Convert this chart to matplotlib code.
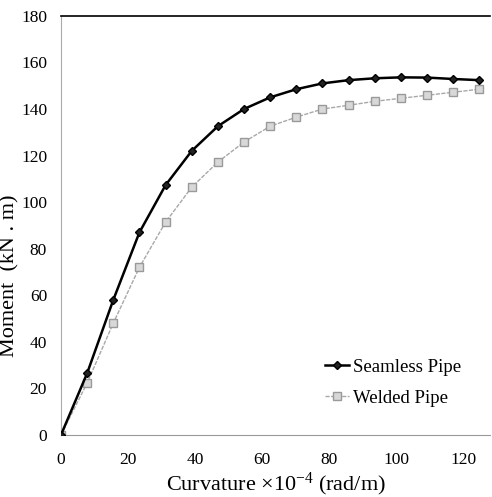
import matplotlib.pyplot as plt

plt.rcParams["font.family"] = ["Liberation Serif", "DejaVu Serif"]
plt.rcParams["mathtext.fontset"] = "custom"
plt.rcParams["mathtext.rm"] = "Liberation Serif"

curvature = [0, 7.8, 15.6, 23.4, 31.2, 39.0, 46.8, 54.6, 62.4, 70.2, 78.0,
             85.8, 93.6, 101.4, 109.2, 117.0, 124.8]
seamless = [0, 26.5, 58, 87, 107.3, 122, 132.6, 140, 145, 148.5, 151,
            152.4, 153.2, 153.6, 153.5, 152.9, 152.4]
welded = [0, 22.3, 48, 72, 91.4, 106.4, 117.2, 125.8, 132.6, 136.5, 140,
          141.6, 143.3, 144.6, 145.9, 147.2, 148.5]

fig = plt.figure(figsize=(4.92, 4.97), dpi=100)
ax = fig.add_axes([0.124, 0.125, 0.872, 0.843])

ax.plot(curvature, seamless, color="black", linewidth=1.8, marker="D",
        markersize=4.5, markerfacecolor="#222222", markeredgecolor="black",
        label="Seamless Pipe", zorder=3)
ax.plot(curvature, welded, color="#a8a8a8", linewidth=1.0, linestyle=(0, (3, 1)),
        marker="s", markersize=6, markerfacecolor="#d8d8d8",
        markeredgecolor="#9a9a9a", label="Welded Pipe", zorder=2)

ax.set_xlim(0, 128)
ax.set_ylim(0, 180)
ax.set_xticks([0, 20, 40, 60, 80, 100, 120])
ax.set_yticks(range(0, 181, 20))
ax.tick_params(length=0, labelsize=12.5)
ax.tick_params(axis="x", pad=12)
ax.tick_params(axis="y", pad=10)

ax.spines["right"].set_visible(False)
ax.spines["top"].set_color("black")
ax.spines["top"].set_linewidth(1.2)
ax.spines["left"].set_color("#aaaaaa")
ax.spines["left"].set_linewidth(0.8)
ax.spines["bottom"].set_color("#999999")
ax.spines["bottom"].set_linewidth(0.8)
ax.spines["bottom"].set_linestyle((0, (2, 1)))

ax.set_xlabel(r"Curvature $\times\mathregular{10^{-4}}$ (rad/m)", fontsize=16, labelpad=2)
ax.set_ylabel("Moment  (kN . m)", fontsize=16)
ax.yaxis.set_label_coords(-0.097, 0.38)

ax.legend(loc="lower right", bbox_to_anchor=(0.972, 0.027), frameon=False,
          fontsize=13.5, handlelength=1.3, handletextpad=0.2, labelspacing=0.75)

fig.savefig("out.png", dpi=100)
